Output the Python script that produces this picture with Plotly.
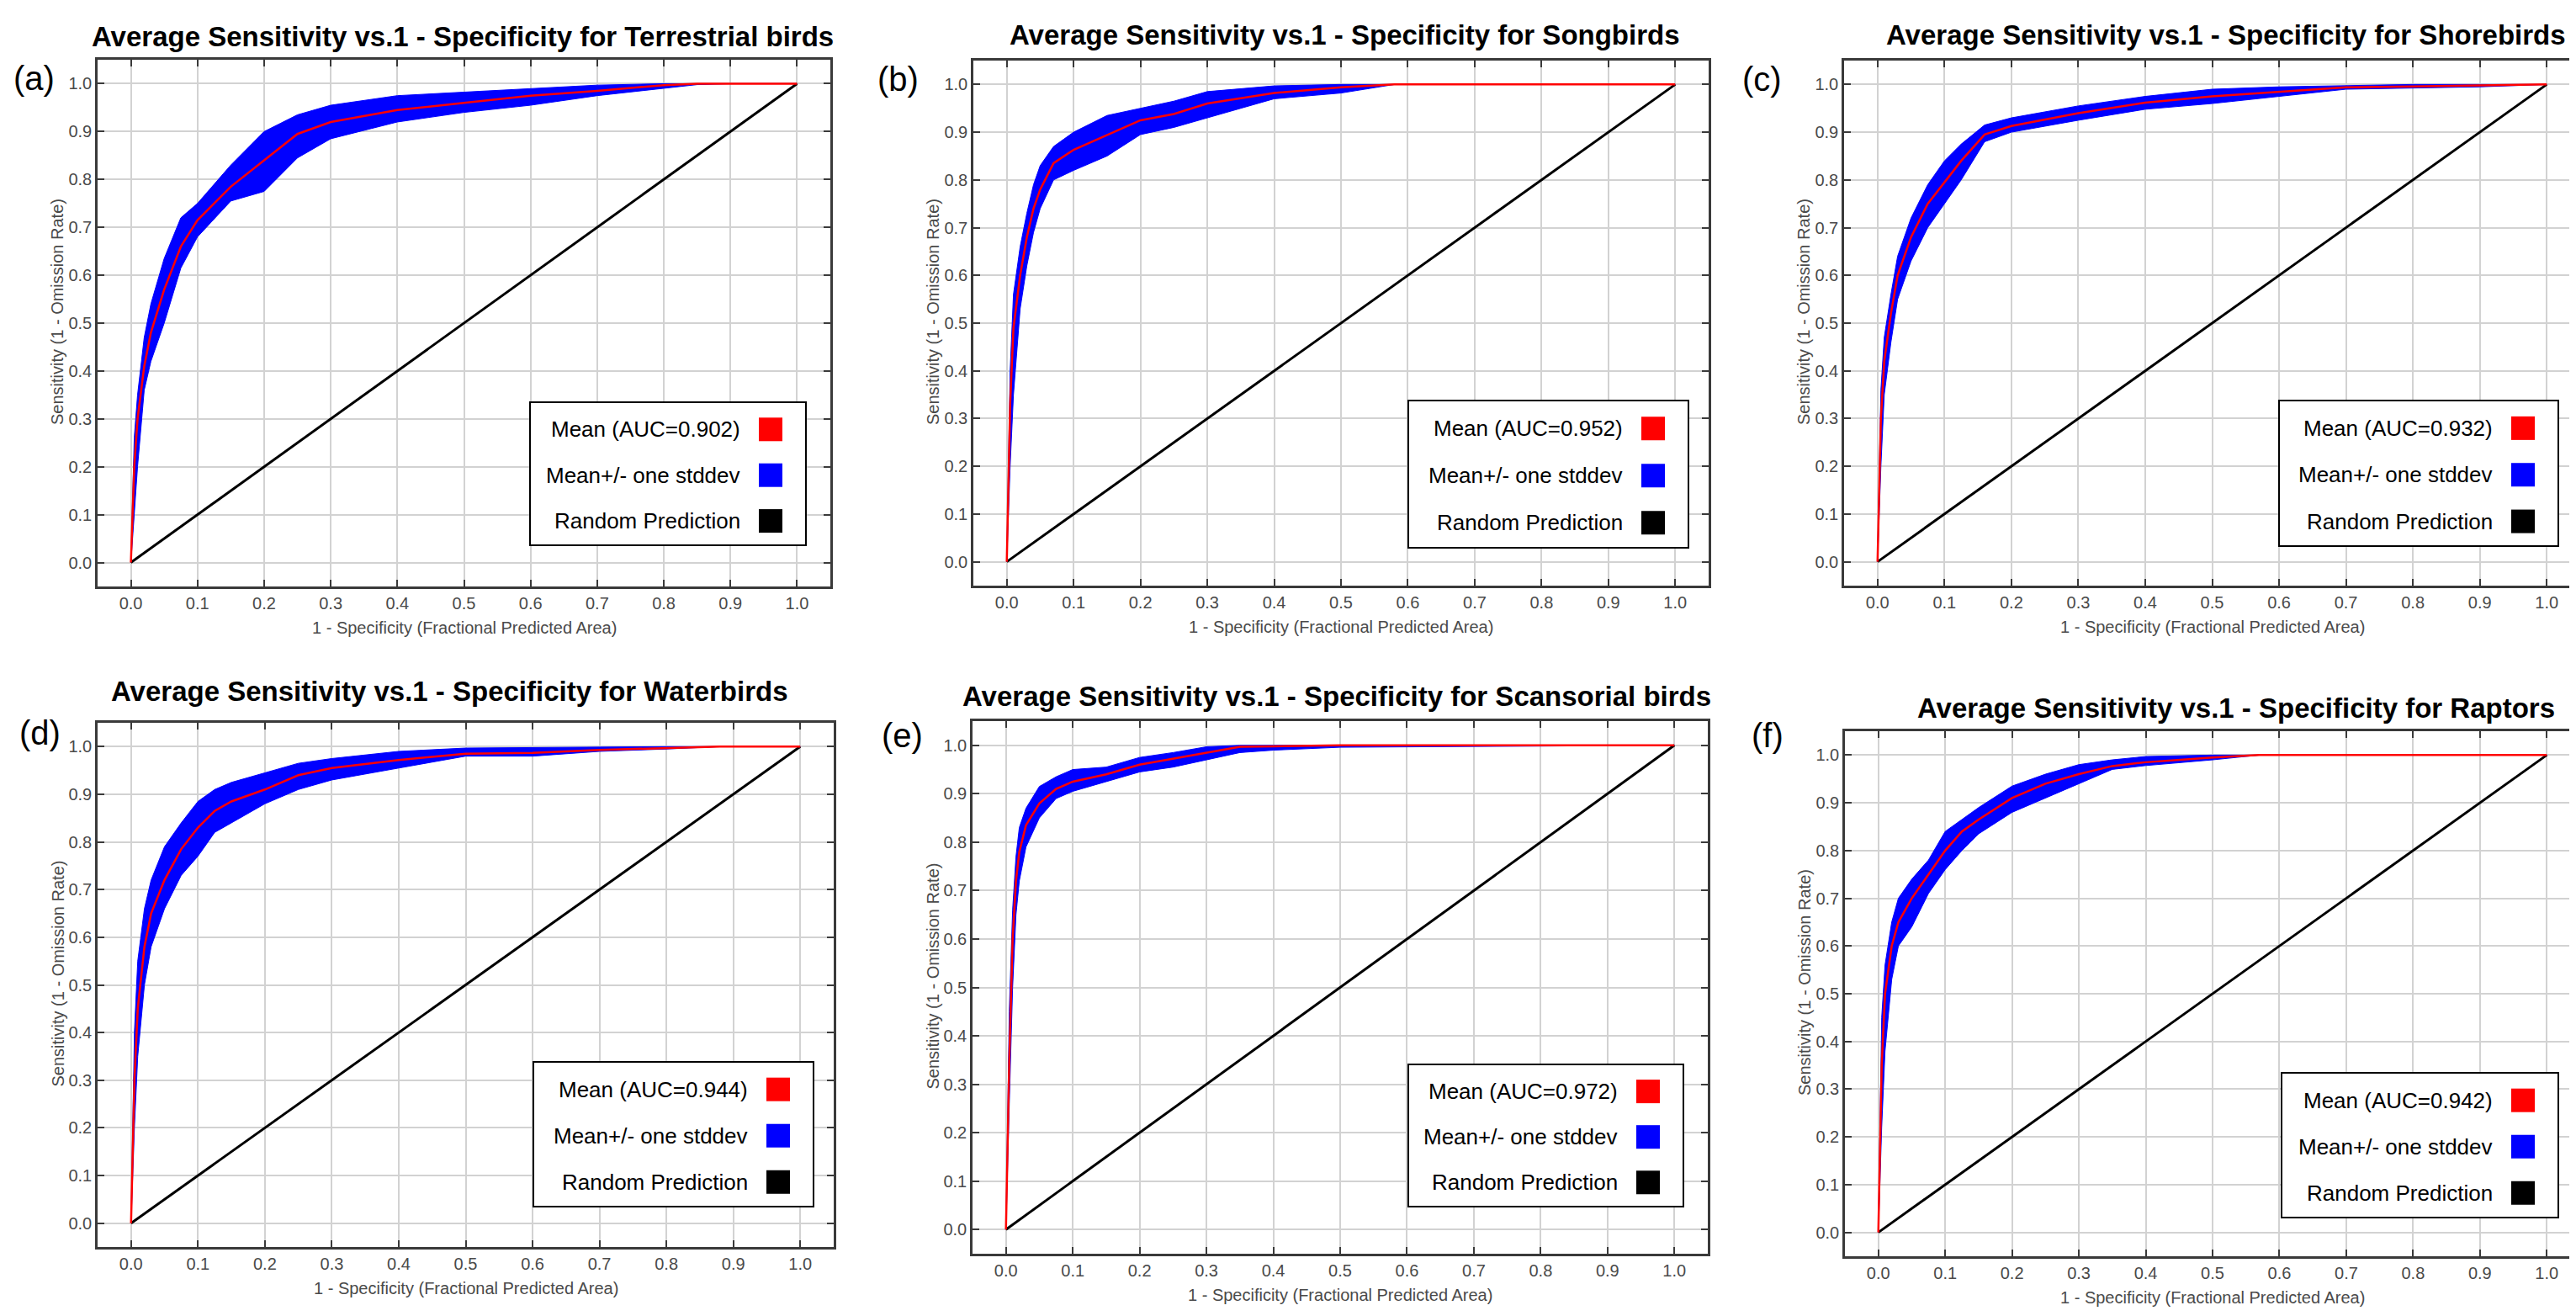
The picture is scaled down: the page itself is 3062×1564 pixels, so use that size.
import plotly.graph_objects as go

# ---------------- data ----------------
groups = ["Terrestrial birds", "Songbirds", "Shorebirds",
          "Waterbirds", "Scansorial birds", "Raptors"]
panel_tags = ["(a)", "(b)", "(c)", "(d)", "(e)", "(f)"]
auc_values = ["0.902", "0.952", "0.932", "0.944", "0.972", "0.942"]

tick_vals = [0.0, 0.1, 0.2, 0.3, 0.4, 0.5, 0.6, 0.7, 0.8, 0.9, 1.0]
tick_labels = ["0.0", "0.1", "0.2", "0.3", "0.4", "0.5",
               "0.6", "0.7", "0.8", "0.9", "1.0"]

random_x = [0.0, 1.0]
random_y = [0.0, 1.0]

terrestrial_fpr = [0, 0.005, 0.01, 0.02, 0.03, 0.05, 0.075, 0.1, 0.15, 0.2, 0.25, 0.3, 0.4, 0.5, 0.6, 0.7, 0.8, 0.85, 0.9, 1.0]
terrestrial_mean = [0, 0.2, 0.3, 0.41, 0.48, 0.57, 0.66, 0.715, 0.785, 0.84, 0.895, 0.92, 0.945, 0.96, 0.975, 0.985, 0.997, 1.0, 1.0, 1.0]
terrestrial_upper = [0, 0.26, 0.35, 0.47, 0.54, 0.635, 0.72, 0.75, 0.83, 0.9, 0.935, 0.955, 0.975, 0.982, 0.99, 0.997, 1.0, 1.0, 1.0, 1.0]
terrestrial_lower = [0, 0.1, 0.2, 0.36, 0.42, 0.5, 0.615, 0.68, 0.755, 0.775, 0.845, 0.885, 0.92, 0.94, 0.955, 0.975, 0.99, 0.998, 1.0, 1.0]

songbird_fpr = [0, 0.005, 0.01, 0.02, 0.03, 0.04, 0.05, 0.07, 0.1, 0.15, 0.2, 0.25, 0.3, 0.4, 0.5, 0.58, 1.0]
songbird_mean = [0, 0.33, 0.49, 0.6, 0.68, 0.74, 0.78, 0.835, 0.863, 0.894, 0.925, 0.938, 0.96, 0.982, 0.994, 1.0, 1.0]
songbird_upper = [0, 0.4, 0.56, 0.66, 0.73, 0.79, 0.83, 0.87, 0.9, 0.935, 0.95, 0.965, 0.985, 0.997, 1.0, 1.0, 1.0]
songbird_lower = [0, 0.2, 0.35, 0.53, 0.62, 0.69, 0.74, 0.8, 0.82, 0.85, 0.895, 0.91, 0.93, 0.97, 0.982, 1.0, 1.0]

shorebird_fpr = [0, 0.005, 0.01, 0.02, 0.03, 0.05, 0.075, 0.1, 0.125, 0.16, 0.2, 0.3, 0.4, 0.5, 0.6, 0.7, 0.8, 0.9, 1.0]
shorebird_mean = [0, 0.3, 0.42, 0.52, 0.6, 0.68, 0.75, 0.795, 0.84, 0.895, 0.913, 0.94, 0.962, 0.975, 0.985, 0.994, 0.996, 0.998, 1.0]
shorebird_upper = [0, 0.36, 0.47, 0.56, 0.64, 0.72, 0.79, 0.84, 0.875, 0.915, 0.93, 0.955, 0.975, 0.99, 0.995, 0.998, 1.0, 1.0, 1.0]
shorebird_lower = [0, 0.2, 0.35, 0.46, 0.55, 0.63, 0.7, 0.75, 0.8, 0.88, 0.9, 0.925, 0.948, 0.96, 0.975, 0.99, 0.993, 0.995, 1.0]

waterbird_fpr = [0, 0.005, 0.01, 0.02, 0.03, 0.05, 0.075, 0.1, 0.125, 0.15, 0.2, 0.25, 0.3, 0.4, 0.5, 0.6, 0.7, 0.8, 0.88, 1.0]
waterbird_mean = [0, 0.3, 0.45, 0.58, 0.65, 0.72, 0.785, 0.83, 0.865, 0.885, 0.91, 0.94, 0.955, 0.972, 0.985, 0.987, 0.993, 0.997, 1.0, 1.0]
waterbird_upper = [0, 0.4, 0.55, 0.66, 0.72, 0.79, 0.84, 0.885, 0.91, 0.925, 0.945, 0.965, 0.975, 0.99, 0.997, 0.998, 1.0, 1.0, 1.0, 1.0]
waterbird_lower = [0, 0.2, 0.35, 0.5, 0.58, 0.66, 0.73, 0.77, 0.82, 0.84, 0.88, 0.91, 0.93, 0.955, 0.98, 0.98, 0.99, 0.995, 1.0, 1.0]

scansorial_fpr = [0, 0.005, 0.01, 0.015, 0.02, 0.03, 0.05, 0.075, 0.1, 0.15, 0.2, 0.25, 0.3, 0.35, 0.4, 0.5, 1.0]
scansorial_mean = [0, 0.35, 0.6, 0.72, 0.78, 0.835, 0.88, 0.91, 0.925, 0.94, 0.96, 0.972, 0.985, 0.997, 0.998, 1.0, 1.0]
scansorial_upper = [0, 0.45, 0.66, 0.77, 0.83, 0.87, 0.915, 0.935, 0.95, 0.955, 0.975, 0.985, 0.997, 1.0, 1.0, 1.0, 1.0]
scansorial_lower = [0, 0.26, 0.5, 0.65, 0.72, 0.79, 0.85, 0.89, 0.905, 0.925, 0.945, 0.955, 0.97, 0.985, 0.99, 0.996, 1.0]

raptor_fpr = [0, 0.005, 0.01, 0.02, 0.03, 0.05, 0.075, 0.1, 0.125, 0.15, 0.2, 0.25, 0.3, 0.35, 0.4, 0.5, 0.57, 1.0]
raptor_mean = [0, 0.35, 0.5, 0.6, 0.65, 0.7, 0.75, 0.8, 0.84, 0.865, 0.91, 0.94, 0.96, 0.977, 0.985, 0.995, 1.0, 1.0]
raptor_upper = [0, 0.45, 0.56, 0.65, 0.7, 0.74, 0.78, 0.84, 0.865, 0.89, 0.935, 0.96, 0.98, 0.99, 0.997, 1.0, 1.0, 1.0]
raptor_lower = [0, 0.22, 0.38, 0.53, 0.6, 0.64, 0.71, 0.76, 0.8, 0.835, 0.88, 0.91, 0.94, 0.97, 0.978, 0.99, 1.0, 1.0]

series = [
    (terrestrial_fpr, terrestrial_mean, terrestrial_upper, terrestrial_lower),
    (songbird_fpr, songbird_mean, songbird_upper, songbird_lower),
    (shorebird_fpr, shorebird_mean, shorebird_upper, shorebird_lower),
    (waterbird_fpr, waterbird_mean, waterbird_upper, waterbird_lower),
    (scansorial_fpr, scansorial_mean, scansorial_upper, scansorial_lower),
    (raptor_fpr, raptor_mean, raptor_upper, raptor_lower),
]

# ---------------- layout (pixels) ----------------
W, H = 3062, 1564
frames = [(108, 979, 63, 689), (1149, 2023, 64, 688), (2184, 3059, 64, 688),
          (108, 983, 851, 1474), (1148, 2022, 849, 1482), (2185, 3059, 861, 1485)]
title_pos = [(542, 36), (1590, 34), (2638, 34), (526, 813), (1581, 819), (2650, 833)]
tag_pos = [(32, 85), (1059, 86), (2086, 86), (39, 863), (1064, 866), (2093, 866)]
legend_boxes = [(622, 950, 470, 640), (1666, 1999, 468, 643), (2701, 3033, 468, 641),
                (626, 959, 1254, 1426), (1666, 1993, 1257, 1426), (2704, 3033, 1267, 1439)]

NARROW = "Liberation Sans Narrow, Arial Narrow, Liberation Sans, Arial, sans-serif"
REG = "Liberation Sans, Arial, sans-serif"


def px(x):
    return x / W


def py(y):
    return 1 - y / H


fig = go.Figure()
annotations = []
shapes = []
layout_axes = {}

for i, (fpr, mean, upper, lower) in enumerate(series):
    suffix = "" if i == 0 else str(i + 1)
    xr, yr = "x" + suffix, "y" + suffix
    fig.add_trace(go.Scatter(x=fpr + fpr[::-1], y=upper + lower[::-1], mode="lines",
                             fill="toself", fillcolor="#0000ff",
                             line=dict(color="#0000ff", width=1),
                             xaxis=xr, yaxis=yr, showlegend=False, hoverinfo="skip"))
    fig.add_trace(go.Scatter(x=random_x, y=random_y, mode="lines",
                             line=dict(color="black", width=3),
                             xaxis=xr, yaxis=yr, showlegend=False))
    fig.add_trace(go.Scatter(x=fpr, y=mean, mode="lines",
                             line=dict(color="#ff0000", width=2.5),
                             xaxis=xr, yaxis=yr, showlegend=False))

    l, r, t, b = frames[i]
    common = dict(range=[-0.05, 1.05], tickvals=tick_vals, ticktext=tick_labels,
                  ticks="inside", ticklen=8, tickwidth=2, tickcolor="#3a3a3a",
                  showline=True, linecolor="#3a3a3a", linewidth=2.5, mirror="allticks",
                  showgrid=True, gridcolor="#d2d2d2", gridwidth=2, zeroline=False,
                  tickfont=dict(family=REG, size=20, color="#4a4a4a"), fixedrange=True)
    layout_axes["xaxis" + suffix] = dict(domain=[px(l), px(r)], anchor=yr, **common)
    layout_axes["yaxis" + suffix] = dict(domain=[py(b), py(t)], anchor=xr, **common)

    # title
    tx, ty = title_pos[i]
    annotations.append(dict(x=px(tx), y=py(ty), xref="paper", yref="paper",
                            text="<b>Average Sensitivity vs.1 - Specificity for %s</b>" % groups[i],
                            showarrow=False, xanchor="center", yanchor="middle",
                            font=dict(family=NARROW, size=33, color="black")))
    gx, gy = tag_pos[i]
    annotations.append(dict(x=px(gx), y=py(gy), xref="paper", yref="paper",
                            text=panel_tags[i], showarrow=False, xanchor="center", yanchor="middle",
                            font=dict(family=REG, size=40, color="black")))
    # axis titles
    annotations.append(dict(x=px((l + r) / 2), y=py(b + 49), xref="paper", yref="paper",
                            text="1 - Specificity (Fractional Predicted Area)", showarrow=False,
                            xanchor="center", yanchor="middle",
                            font=dict(family=NARROW, size=20, color="#4a4a4a")))
    annotations.append(dict(x=px(l - 48), y=py((t + b) / 2 - 13), xref="paper", yref="paper",
                            text="Sensitivity (1 - Omission Rate)", showarrow=False, textangle=-90,
                            xanchor="center", yanchor="middle",
                            font=dict(family=REG, size=20, color="#4a4a4a")))

    # legend box
    bl, br, bt, bb = legend_boxes[i]
    shapes.append(dict(type="rect", xref="paper", yref="paper",
                       x0=px(bl), x1=px(br), y0=py(bb), y1=py(bt),
                       line=dict(color="black", width=2), fillcolor="white", layer="above"))
    entries = [("Mean (AUC=%s)" % auc_values[i], "#ff0000"),
               ("Mean+/- one stddev", "#0000ff"),
               ("Random Prediction", "#000000")]
    hgt = bb - bt
    for k, (label, col) in enumerate(entries):
        cy = bt + hgt * (0.19 + 0.32 * k)
        sq_r = br - 28
        sq_l = sq_r - 28
        shapes.append(dict(type="rect", xref="paper", yref="paper",
                           x0=px(sq_l), x1=px(sq_r), y0=py(cy + 14), y1=py(cy - 14),
                           line=dict(width=0), fillcolor=col, layer="above"))
        annotations.append(dict(x=px(sq_l - 20), y=py(cy), xref="paper", yref="paper",
                                text=label, showarrow=False, xanchor="right", yanchor="middle",
                                font=dict(family=REG, size=26, color="black")))

fig.update_layout(width=W, height=H, margin=dict(l=0, r=0, t=0, b=0),
                  paper_bgcolor="white", plot_bgcolor="white",
                  annotations=annotations, shapes=shapes, **layout_axes)

fig.write_html("out.html")
